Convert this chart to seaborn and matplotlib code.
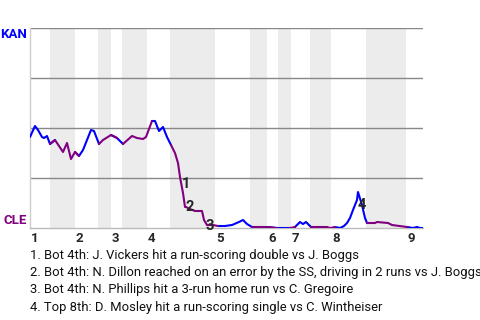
import numpy as np
import pandas as pd
import matplotlib
matplotlib.use("Agg")
import matplotlib.pyplot as plt
import seaborn as sns

# ---- data (x = game progress units, y = KAN win probability) ----
progress = [0, 5, 8, 12, 14, 17, 20, 25, 29, 33, 37, 41, 45, 49, 53, 57, 61, 64,
            69, 73, 81, 87, 93, 102, 107, 113, 116, 122, 125, 129, 133, 137, 141,
            145, 148, 150, 153, 155, 156, 160, 165, 172, 174, 177, 183, 188, 195,
            202, 209, 213, 217, 222, 237, 247, 260, 265, 270, 273, 276, 281, 297,
            300, 305, 310, 314, 317, 320, 323, 327, 328, 332, 335, 337, 345, 347,
            358, 362, 377, 383, 387, 390, 393]
kan_wp = [0.455, 0.51, 0.49, 0.455, 0.45, 0.46, 0.42, 0.44, 0.41, 0.38, 0.425,
          0.345, 0.38, 0.36, 0.39, 0.44, 0.49, 0.485, 0.42, 0.44, 0.465, 0.45,
          0.42, 0.46, 0.45, 0.445, 0.455, 0.535, 0.535, 0.485, 0.505, 0.455,
          0.415, 0.375, 0.325, 0.255, 0.175, 0.105, 0.105, 0.095, 0.085, 0.085,
          0.04, 0.015, 0.015, 0.01, 0.01, 0.015, 0.03, 0.04, 0.02, 0.005, 0.005,
          0.0, 0.0, 0.005, 0.03, 0.02, 0.03, 0.005, 0.005, 0.0, 0.005, 0.0, 0.01,
          0.025, 0.05, 0.09, 0.14, 0.18, 0.115, 0.05, 0.025, 0.025, 0.03, 0.025,
          0.015, 0.005, 0.0, 0.005, 0.0, 0.0]

# half-inning boundaries (top/bottom alternate), same units as progress
half_bounds = [0, 20, 45, 68, 81, 92, 117, 140, 185, 220, 237, 248, 261, 280,
               301, 336, 376, 393]
inning_labels = ["1", "2", "3", "4", "5", "6", "7", "8", "9"]

event_ids = ["1", "2", "3", "4"]
event_x = [156, 160, 180, 332]
event_y = [0.22, 0.105, 0.01, 0.115]
event_text = [
    "1. Bot 4th: J. Vickers hit a run-scoring double vs J. Boggs",
    "2. Bot 4th: N. Dillon reached on an error by the SS, driving in 2 runs vs J. Boggs",
    "3. Bot 4th: N. Phillips hit a 3-run home run vs C. Gregoire",
    "4. Top 8th: D. Mosley hit a run-scoring single vs C. Wintheiser",
]

KAN_BLUE = "#0000ff"
CLE_PURPLE = "#800080"

# ---- build segments coloured by half inning ----
rows = []
px = np.array(progress, dtype=float)
py = np.array(kan_wp, dtype=float)
for h in range(len(half_bounds) - 1):
    a, b = half_bounds[h], half_bounds[h + 1]
    idx = np.where((px >= a) & (px <= b))[0]
    if len(idx) == 0:
        continue
    hi = min(idx[-1] + 1, len(px) - 1)
    team = "KAN" if h % 2 == 0 else "CLE"
    for i in range(idx[0], hi + 1):
        rows.append({"x": px[i], "y": py[i], "team": team, "seg": h})
df = pd.DataFrame(rows)

sns.set_style("white")
plt.rcParams["font.family"] = ["Roboto", "DejaVu Sans"]

fig = plt.figure(figsize=(4.8, 3.2), dpi=100)
ax = fig.add_axes([30 / 480, 1 - 228 / 320, 393 / 480, 200 / 320])

# shaded bottom halves
for h in range(1, len(half_bounds) - 1, 2):
    ax.axvspan(half_bounds[h], half_bounds[h + 1], color="#ececec", lw=0, zorder=0)

for yv in [0.25, 0.5, 0.75, 1.0]:
    ax.axhline(yv, color="#888888", lw=1, zorder=1)

sns.lineplot(data=df, x="x", y="y", hue="team", units="seg", estimator=None,
             palette={"KAN": KAN_BLUE, "CLE": CLE_PURPLE}, lw=1.5, ax=ax,
             legend=False, zorder=3, sort=False)

ax.set_xlim(0, 393)
ax.set_ylim(0, 1)
ax.set_xticks([])
ax.set_yticks([])
ax.set_xlabel("")
ax.set_ylabel("")
for s in ["top", "right"]:
    ax.spines[s].set_visible(False)
ax.spines["left"].set_color("#cccccc")
ax.spines["bottom"].set_color("#bbbbbb")
ax.spines["left"].set_linewidth(1)
ax.spines["bottom"].set_linewidth(1)

# team labels
ax.text(-3, 0.965, "KAN", color=KAN_BLUE, fontsize=9.5, fontweight="bold",
        ha="right", va="center", clip_on=False)
ax.text(-3, 0.035, "CLE", color=CLE_PURPLE, fontsize=9.5, fontweight="bold",
        ha="right", va="center", clip_on=False)

# inning labels
for i, lab in enumerate(inning_labels):
    xs = half_bounds[2 * i]
    ax.text(xs + 1, -0.055, lab, fontsize=9.5, fontweight="bold", ha="left",
            va="center", clip_on=False)

# event markers
for eid, ex, ey in zip(event_ids, event_x, event_y):
    ax.text(ex, ey, eid, fontsize=10.5, fontweight="bold", ha="center",
            va="center", zorder=4)

# event descriptions
for i, t in enumerate(event_text):
    fig.text(30 / 480, 1 - (255 + 17.5 * i) / 320, t, fontsize=9.4, ha="left",
             va="center", color="#111111")

fig.savefig("out.png", dpi=100, facecolor="white")
